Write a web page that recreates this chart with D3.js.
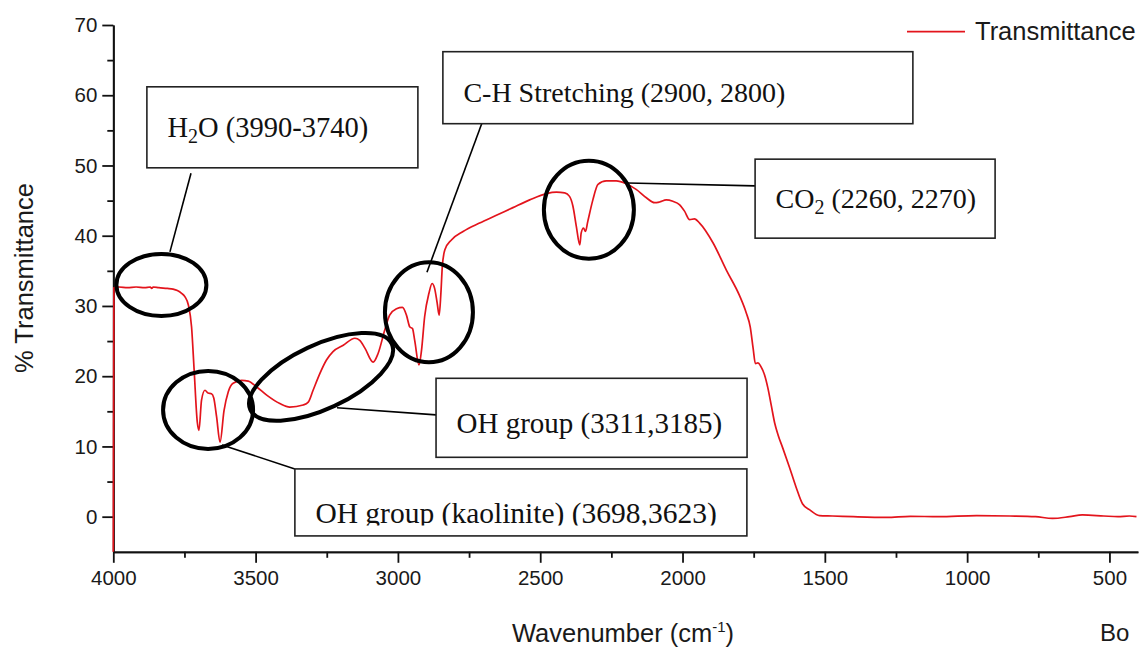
<!DOCTYPE html>
<html>
<head>
<meta charset="utf-8">
<script src="https://cdn.jsdelivr.net/npm/d3@7"></script>
<style>
  html, body { margin: 0; padding: 0; background: #fff; }
  #ftir-container svg { display: block; }
</style>
</head>
<body>
<div id="ftir-container"></div>
<script>
// FTIR spectrum, values
const wavenumber = [
    4000, 3998, 3980, 3950, 3920, 3890, 3870, 3865, 3860, 3840, 3810, 3790, 3775, 3760,
    3748, 3736, 3725, 3716, 3705, 3699, 3690, 3678, 3667, 3655, 3647, 3637, 3625, 3611,
    3596, 3579, 3549, 3526, 3497, 3461, 3415, 3380, 3333, 3315, 3298, 3274, 3251, 3228,
    3192, 3151, 3134, 3116, 3087, 3070, 3046, 3029, 3005, 2984, 2970, 2958, 2949, 2941,
    2926, 2917, 2906, 2891, 2880, 2871, 2862, 2855, 2849, 2844, 2835, 2812, 2771, 2713,
    2654, 2596, 2537, 2478, 2443, 2414, 2397, 2385, 2373, 2361, 2356, 2348, 2341, 2333,
    2315, 2297, 2268, 2233, 2198, 2163, 2127, 2098, 2081, 2057, 2034, 2010, 1993, 1975,
    1958, 1940, 1893, 1846, 1800, 1776, 1762, 1752, 1744, 1735, 1725, 1712, 1700, 1688,
    1676, 1664, 1648, 1624, 1601, 1578, 1554, 1519, 1473, 1400, 1283, 1200, 1100, 967,
    850, 760, 700, 640, 595, 520, 470, 430, 405
];
const transmittance = [
    -5, 32.6, 32.7, 32.6, 32.7, 32.6, 32.7, 32.5, 32.7, 32.6, 32.5, 32.4, 32.2, 31.8,
    31.3, 30.1, 27.0, 20.9, 13.5, 12.3, 16.6, 18.0, 17.6, 17.5, 16.9, 14.2, 10.6, 15.1,
    17.8, 19.0, 19.4, 19.3, 18.5, 17.3, 16.1, 15.6, 15.9, 16.3, 18.0, 20.4, 22.3, 23.5,
    24.4, 25.4, 25.1, 24.0, 22.0, 23.2, 26.6, 28.7, 29.6, 29.8, 28.7, 27.0, 26.8, 25.1,
    21.6, 23.7, 28.5, 31.8, 33.2, 32.5, 30.4, 28.7, 31.8, 35.6, 38.0, 39.4, 40.6, 41.8,
    42.9, 44.0, 45.1, 46.0, 46.2, 46.1, 45.6, 44.2, 41.3, 38.7, 40.4, 41.1, 40.6, 42.0,
    45.1, 47.3, 47.8, 47.8, 47.4, 46.6, 45.4, 44.7, 44.8, 45.1, 44.9, 44.4, 43.5, 42.3,
    42.4, 41.8, 39.0, 35.1, 31.5, 29.0, 27.0, 24.0, 21.8, 21.9, 21.4, 20.2, 18.3, 15.8,
    13.3, 11.6, 9.8, 7.0, 4.2, 1.8, 1.0, 0.15, 0.1, 0.0, -0.1, 0.05, 0.0, 0.15,
    0.1, 0.0, -0.25, 0.0, 0.25, 0.1, 0.0, 0.1, 0.0
];

const xMajorTicks = [4000, 3500, 3000, 2500, 2000, 1500, 1000, 500];
const xMinorTicks = [3750, 3250, 2750, 2250, 1750, 1250, 750];
const yMajorTicks = [0, 10, 20, 30, 40, 50, 60, 70];
const yMinorTicks = [5, 15, 25, 35, 45, 55, 65];

const seriesName = "Transmittance";
const xTitle = "Wavenumber (cm";
const yTitle = "% Transmittance";

// annotation labels, parts with sub: true are subscripts
const labelH2O = [{ t: "H" }, { t: "2", sub: true }, { t: "O" }, { t: " (3990-3740)" }];
const labelCH = [{ t: "C-H Stretching (2900, 2800)" }];
const labelCO2 = [{ t: "CO" }, { t: "2", sub: true }, { t: " (2260, 2270)" }];
const labelOH = [{ t: "OH group (3311,3185)" }];
const labelKaol = [{ t: "OH group (kaolinite) (3698,3623)" }];

const width = 1145;
const height = 650;
const red = "#e3141c";

// data-space anchors for the callouts
const annotations = [
    { label: labelH2O, size: 28.5, ring: [3831, 33.0, 45, 31, 0], box: [3882, 61.2, 271, 81, 50],
      leader: [[3727, 48.9], [3801, 37.7]] },
    { label: labelCH, size: 28, ring: [2891, 29.1, 44, 50, 0], box: [2842, 66.2, 470, 72, 50],
      leader: [[2705, 56.0], [2898, 34.8]] },
    { label: labelCO2, size: 28, ring: [2329, 43.7, 45, 49, 0], box: [1745, 50.9, 240, 79, 49],
      leader: [[2192, 47.5], [1745, 47.1]] },
    { label: labelOH, size: 29, ring: [3270, 19.9, 78, 32, -25], box: [2866, 19.7, 311, 79, 55],
      leader: [[3214, 15.5], [2866, 14.5]] },
    { label: labelKaol, size: 29.5, ring: [3667, 15.2, 45, 39, 0], box: [3362, 6.8, 452, 67, 54],
      leader: [[3618, 10.2], [3362, 6.8]], clip: true },
];

function drawSpectrum(selector) {
    const svg = d3.select(selector)
        .append("svg")
        .attr("width", width)
        .attr("height", height)
        .style("font-family", "'Liberation Sans', Arial, sans-serif");

    const x = d3.scaleLinear().domain([4000, 400]).range([113.3, 1137.9]);
    const y = d3.scaleLinear().domain([-5, 70]).range([551.8, 25]);

    // axes: minor ticks first, then labelled major ticks
    svg.append("g")
        .attr("transform", "translate(0," + y(-5) + ")")
        .call(d3.axisBottom(x).tickValues(xMinorTicks).tickSize(6).tickSizeOuter(0).tickFormat(""));
    svg.append("g")
        .attr("transform", "translate(0," + y(-5) + ")")
        .call(d3.axisBottom(x).tickValues(xMajorTicks).tickSize(11).tickSizeOuter(0)
            .tickPadding(8).tickFormat(d3.format("d")))
        .selectAll("text").style("font-size", "20.5px");
    svg.append("g")
        .attr("transform", "translate(" + x(4000) + ",0)")
        .call(d3.axisLeft(y).tickValues(yMinorTicks).tickSize(6).tickSizeOuter(0).tickFormat(""));
    svg.append("g")
        .attr("transform", "translate(" + x(4000) + ",0)")
        .call(d3.axisLeft(y).tickValues(yMajorTicks).tickSize(11).tickSizeOuter(0).tickPadding(5))
        .selectAll("text").style("font-size", "20.5px");

    svg.selectAll(".domain, .tick line")
        .attr("stroke", "#111")
        .attr("stroke-width", 1.8);
    svg.selectAll(".tick text").attr("fill", "#1a1a1a").style("font-family", "'Liberation Sans', Arial, sans-serif");

    // axis titles
    const xt = svg.append("text")
        .attr("x", 512)
        .attr("y", 642)
        .attr("fill", "#1a1a1a")
        .style("font-size", "25.5px")
        .text(xTitle);
    xt.append("tspan").attr("dy", -10).style("font-size", "15px").text("-1");
    xt.append("tspan").attr("dy", 10).text(")");

    svg.append("text")
        .attr("transform", "translate(33,278) rotate(-90)")
        .attr("text-anchor", "middle")
        .attr("fill", "#1a1a1a")
        .style("font-size", "25.5px")
        .text(yTitle);

    svg.append("text")
        .attr("x", 1100)
        .attr("y", 641)
        .attr("fill", "#1a1a1a")
        .style("font-size", "24px")
        .text("Bo");

    // legend
    svg.append("line")
        .attr("x1", 907).attr("x2", 965)
        .attr("y1", 31.7).attr("y2", 31.7)
        .attr("stroke", red).attr("stroke-width", 1.8);
    svg.append("text")
        .attr("x", 975)
        .attr("y", 40)
        .attr("fill", "#1a1a1a")
        .style("font-size", "25.5px")
        .text(seriesName);

    // spectrum
    const points = wavenumber.map((w, i) => [w, transmittance[i]]);
    const line = d3.line()
        .x(d => x(d[0]))
        .y(d => y(d[1]))
        .curve(d3.curveMonotoneX);
    svg.append("path")
        .datum(points)
        .attr("d", line)
        .attr("fill", "none")
        .attr("stroke", red)
        .attr("stroke-width", 1.7)
        .attr("stroke-linejoin", "round");

    // callouts
    const notes = svg.append("g").style("font-family", "'Liberation Serif', 'Times New Roman', serif");
    annotations.forEach((a, i) => {
        const [rw, rt, rx, ry, rot] = a.ring;
        notes.append("ellipse")
            .attr("transform", "translate(" + x(rw) + "," + y(rt) + ") rotate(" + rot + ")")
            .attr("rx", rx).attr("ry", ry)
            .attr("fill", "none")
            .attr("stroke", "#000")
            .attr("stroke-width", 4);

        notes.append("line")
            .attr("x1", x(a.leader[0][0])).attr("y1", y(a.leader[0][1]))
            .attr("x2", x(a.leader[1][0])).attr("y2", y(a.leader[1][1]))
            .attr("stroke", "#000").attr("stroke-width", 1.6);

        const [bw, bt, w, h, base] = a.box;
        const bx = x(bw), by = y(bt);
        notes.append("rect")
            .attr("x", bx).attr("y", by)
            .attr("width", w).attr("height", h)
            .attr("fill", "#fff")
            .attr("stroke", "#222").attr("stroke-width", 1.6);

        const txt = notes.append("text")
            .attr("x", bx + 20.5)
            .attr("y", by + base)
            .attr("fill", "#111")
            .style("font-size", a.size + "px");
        if (a.clip) {
            notes.append("clipPath").attr("id", "clip-" + i)
                .append("rect")
                .attr("x", bx).attr("y", by)
                .attr("width", w).attr("height", base + 2.5);
            txt.attr("clip-path", "url(#clip-" + i + ")");
        }
        let shifted = false;
        a.label.forEach(p => {
            const ts = txt.append("tspan").text(p.t);
            if (p.sub) {
                ts.attr("dy", 6).style("font-size", "20px");
                shifted = true;
            } else if (shifted) {
                ts.attr("dy", -6);
                shifted = false;
            }
        });
    });
}

drawSpectrum("#ftir-container");
</script>
</body>
</html>
